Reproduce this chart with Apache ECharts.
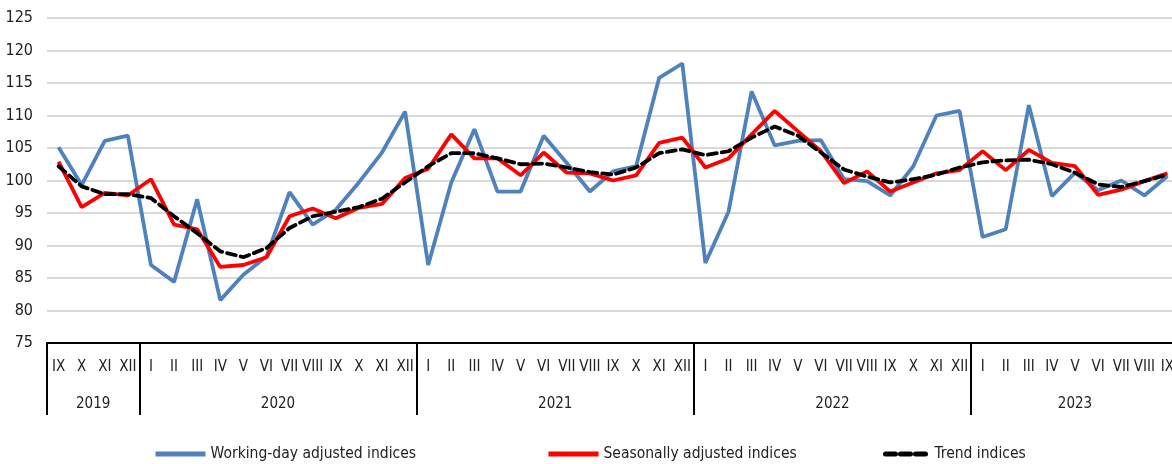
<!DOCTYPE html>
<html>
<head>
<meta charset="utf-8">
<script src="https://cdn.jsdelivr.net/npm/echarts@6/dist/echarts.min.js"></script>
<style>
  html, body { margin: 0; padding: 0; background: #fff; }
  #chart { width: 1172px; height: 464px; }
</style>
</head>
<body>
<div id="chart"></div>
<script>
// month labels, Sep 2019 .. Sep 2023
const months = [
  'IX', 'X', 'XI', 'XII',
  'I', 'II', 'III', 'IV', 'V', 'VI', 'VII', 'VIII', 'IX', 'X', 'XI', 'XII',
  'I', 'II', 'III', 'IV', 'V', 'VI', 'VII', 'VIII', 'IX', 'X', 'XI', 'XII',
  'I', 'II', 'III', 'IV', 'V', 'VI', 'VII', 'VIII', 'IX', 'X', 'XI', 'XII',
  'I', 'II', 'III', 'IV', 'V', 'VI', 'VII', 'VIII', 'IX',
];
// years and where they sit on the month scale (centre of each year block)
const years = ['2019', '2020', '2021', '2022', '2023'];
const yearCenters = [2, 10, 22, 34, 44.5];
const yearBounds = [0, 4, 16, 28, 40, 49];

const workingDay = [
  105.1, 99.3, 106.1, 106.9,
  87.0, 84.4, 97.1, 81.6, 85.5, 88.3, 98.2, 93.2, 95.5, 99.7, 104.3, 110.6,
  87.0, 99.7, 107.9, 98.3, 98.3, 106.9, 102.7, 98.3, 101.4, 102.2, 115.8, 118.0,
  87.3, 95.2, 113.7, 105.4, 106.1, 106.2, 100.2, 99.9, 97.7, 102.2, 110.0, 110.7,
  91.3, 92.5, 111.6, 97.6, 101.2, 98.5, 100.0, 97.7, 100.7,
];
const seasonal = [
  102.9, 95.9, 98.1, 97.7,
  100.2, 93.2, 92.5, 86.7, 87.0, 88.2, 94.5, 95.7, 94.2, 95.8, 96.4, 100.4,
  101.8, 107.1, 103.4, 103.4, 100.8, 104.3, 101.2, 101.1, 100.0, 100.8, 105.8, 106.6,
  102.0, 103.4, 107.1, 110.7, 107.6, 104.5, 99.6, 101.4, 98.3, 99.7, 101.1, 101.6,
  104.5, 101.6, 104.7, 102.7, 102.2, 97.8, 98.6, 99.9, 101.1,
];
const trend = [
  102.2, 99.1, 97.9, 97.9,
  97.3, 94.5, 91.9, 89.1, 88.2, 89.6, 92.7, 94.5, 95.2, 95.9, 97.2, 99.7,
  102.2, 104.2, 104.2, 103.4, 102.5, 102.6, 102.0, 101.3, 100.9, 102.0, 104.2, 104.8,
  103.9, 104.5, 106.6, 108.3, 106.9, 104.3, 101.7, 100.6, 99.7, 100.2, 100.9, 102.0,
  102.8, 103.1, 103.2, 102.5, 101.2, 99.4, 99.0, 99.9, 100.9,
];

const FONT = "'Liberation Sans Narrow', 'DejaVu Sans Condensed', sans-serif";

const myChart = echarts.init(document.getElementById('chart'));

const legendText = { fontFamily: FONT, fontSize: 15.5, color: '#222' };
// only the line part of the legend icon, no symbol
const legendItem = { color: 'transparent', borderWidth: 0, opacity: 0 };

const option = {
  animation: false,
  // the plot runs a little past the right edge of the picture
  grid: { left: 47, width: 1132, top: 18, bottom: 121, outerBoundsMode: 'none' },
  legend: [
    { data: ['Working-day adjusted indices'], left: 148, top: 441, itemWidth: 50, itemHeight: 14, itemStyle: legendItem, lineStyle: { width: 5 }, textStyle: legendText },
    { data: ['Seasonally adjusted indices'], left: 541, top: 441, itemWidth: 50, itemHeight: 14, itemStyle: legendItem, lineStyle: { width: 5 }, textStyle: legendText },
    { data: ['Trend indices'], left: 878, top: 441, itemWidth: 44, itemHeight: 14, itemStyle: legendItem, lineStyle: { width: 5, type: [10, 5], cap: 'round' }, textStyle: legendText },
  ],
  xAxis: [
    {
      type: 'category',
      data: months,
      boundaryGap: true,
      position: 'bottom',
      axisLine: { show: true, lineStyle: { color: '#000', width: 2 } },
      axisTick: { show: false },
      axisLabel: { interval: 0, margin: 17, fontFamily: FONT, fontSize: 15, color: '#222' },
      splitLine: { show: false },
    },
    {
      // year row and the year separators
      type: 'value',
      min: 0,
      max: months.length,
      position: 'bottom',
      axisLine: { show: false },
      axisTick: { show: true, customValues: yearBounds, length: 72, lineStyle: { color: '#000', width: 2 } },
      axisLabel: {
        customValues: yearCenters,
        margin: 54,
        fontFamily: FONT,
        fontSize: 15,
        color: '#222',
        formatter: (v) => years[yearCenters.indexOf(v)],
      },
      splitLine: { show: false },
    },
  ],
  yAxis: {
    type: 'value',
    min: 75,
    max: 125,
    interval: 5,
    axisLine: { show: false },
    axisTick: { show: false },
    axisLabel: { margin: 14, fontFamily: FONT, fontSize: 16, color: '#222' },
    splitLine: { lineStyle: { color: '#d9d9d9', width: 2 } },
  },
  series: [
    {
      name: 'Working-day adjusted indices',
      type: 'line',
      data: workingDay,
      symbol: 'none',
      itemStyle: { color: '#4f81bd' },
      lineStyle: { color: '#4f81bd', width: 3.8 },
      z: 2,
    },
    {
      name: 'Seasonally adjusted indices',
      type: 'line',
      data: seasonal,
      symbol: 'none',
      itemStyle: { color: '#ff0000' },
      lineStyle: { color: '#ff0000', width: 3.8 },
      z: 3,
    },
    {
      name: 'Trend indices',
      type: 'line',
      data: trend,
      symbol: 'none',
      itemStyle: { color: '#000' },
      lineStyle: { color: '#000', width: 3.8, type: [9, 5], cap: 'round' },
      z: 4,
    },
  ],
};

myChart.setOption(option);
window.addEventListener('resize', () => {
  myChart.resize();
});
</script>
</body>
</html>
